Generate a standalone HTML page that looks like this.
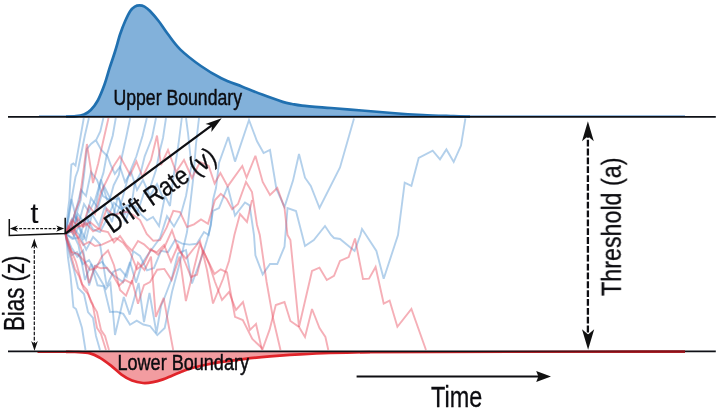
<!DOCTYPE html>
<html><head><meta charset="utf-8"><title>Drift Diffusion Model</title>
<style>html,body{margin:0;padding:0;background:#fff;}body{width:720px;height:411px;overflow:hidden;font-family:"Liberation Sans",sans-serif;}svg{display:block;}</style></head>
<body>
<svg width="720" height="411" viewBox="0 0 720 411">
<rect width="720" height="411" fill="#fff"/>
<g fill="none" stroke-width="1.9" stroke-linejoin="miter" stroke-miterlimit="3" stroke-linecap="butt">
<polyline points="65.5,233.8 67.0,222.0 68.0,210.0 69.3,200.0 70.2,182.0 71.4,164.6 73.4,163.5 75.5,165.6 79.6,141.9 83.8,118.0" stroke="#4a90d0" stroke-opacity="0.42"/>
<polyline points="65.5,233.8 67.5,224.0 69.0,216.0 71.4,200.0 75.5,177.0 78.0,170.0 80.7,156.3 84.8,135.7 88.9,118.0" stroke="#4a90d0" stroke-opacity="0.42"/>
<polyline points="65.5,233.8 69.0,226.0 72.0,219.0 75.0,222.0 78.0,208.0 80.7,200.0 83.8,177.0 86.9,149.0 91.0,144.0 96.2,139.8 100.3,131.5 103.4,118.0" stroke="#4a90d0" stroke-opacity="0.42"/>
<polyline points="65.5,233.8 70.0,228.0 74.0,216.0 79.0,222.0 84.0,204.0 89.0,212.0 95.1,200.0 99.3,185.2 103.4,172.9 106.5,156.3 109.6,146.0 112.7,135.7 115.8,118.0" stroke="#4a90d0" stroke-opacity="0.42"/>
<polyline points="65.5,233.8 71.0,226.0 76.0,210.0 81.0,190.0 86.0,196.0 91.0,172.0 97.0,180.0 103.0,196.0 109.6,200.0 113.7,185.2 118.9,175.0 122.0,156.3 126.1,137.7 130.2,118.0" stroke="#4a90d0" stroke-opacity="0.42"/>
<polyline points="65.5,233.8 72.0,231.0 78.0,214.0 85.0,224.0 91.0,198.0 98.0,208.0 104.0,186.0 110.0,198.0 116.0,216.0 122.0,200.0 128.2,177.0 131.3,168.7 136.4,156.3 142.6,135.7 146.8,118.0" stroke="#4a90d0" stroke-opacity="0.42"/>
<polyline points="65.5,233.8 73.0,238.0 79.0,226.0 86.0,240.0 92.0,214.0 99.0,226.0 105.0,206.0 112.0,222.0 118.0,196.0 125.0,214.0 132.3,200.0 134.4,185.2 140.6,172.9 144.7,156.3 148.8,146.0 152.0,137.7 156.0,118.0" stroke="#4a90d0" stroke-opacity="0.42"/>
<polyline points="65.5,233.8 72.4,238.9 79.3,237.4 86.2,217.4 93.1,229.4 100.0,232.0 107.0,218.8 114.0,202.9 121.0,209.1 128.0,205.1 135.0,206.0 141.0,214.5 147.0,220.3 153.0,217.0 159.0,226.1 165.0,196.0 170.0,206.0 173.0,180.0 178.5,144.0 181.8,118.0" stroke="#4a90d0" stroke-opacity="0.42"/>
<polyline points="65.5,233.8 71.4,247.4 77.3,256.7 83.2,250.6 89.1,285.5 95.0,266.0 102.0,261.7 109.0,271.3 116.0,276.9 123.0,282.1 130.0,262.0 136.0,282.6 142.0,263.4 148.0,254.5 154.0,246.3 160.0,238.0 167.0,216.2 174.0,226.5 181.0,214.0 186.0,196.0 191.4,165.5 188.0,133.0 186.0,118.0" stroke="#4a90d0" stroke-opacity="0.42"/>
<polyline points="65.5,233.8 72.0,231.4 78.5,245.0 85.0,280.0 91.2,264.0 97.5,285.3 103.8,286.3 110.0,312.0 116.7,311.6 123.3,313.9 130.0,324.7 136.7,320.6 143.3,324.5 150.0,326.0 157.3,335.1 164.7,328.0 172.0,292.0 180.0,262.0 187.0,232.0 193.5,176.0 196.0,144.0 199.0,118.0" stroke="#4a90d0" stroke-opacity="0.42"/>
<polyline points="65.5,233.8 71.4,198.9 77.3,222.1 83.2,240.0 89.1,217.0 95.0,210.0 101.0,179.5 107.0,199.8 113.0,199.0 119.0,198.5 125.0,222.0 131.2,204.4 137.5,212.3 143.8,193.3 150.0,188.0 156.0,170.0 160.0,150.0 163.0,138.0 166.0,118.0" stroke="#4a90d0" stroke-opacity="0.42"/>
<polyline points="96.2,140.8 101.3,150.0 107.5,156.3 110.6,164.6 114.8,173.9 120.0,166.7 125.0,182.0 131.0,172.0 137.0,190.0 143.0,180.0 150.0,196.0 157.0,184.0 164.0,200.0" stroke="#4a90d0" stroke-opacity="0.42"/>
<polyline points="65.5,233.8 66.5,240.0 68.0,258.0 70.4,274.5 73.4,307.0 76.0,309.0 79.3,319.0 82.0,328.0 85.5,350.0" stroke="#4a90d0" stroke-opacity="0.42"/>
<polyline points="65.5,233.8 67.0,242.0 70.0,256.0 74.0,270.0 78.0,288.0 84.0,294.0 88.0,312.0 93.0,318.0 96.0,336.0 100.0,350.0" stroke="#4a90d0" stroke-opacity="0.42"/>
<polyline points="65.5,233.8 68.0,244.0 72.0,255.0 77.0,252.0 83.0,264.0 89.0,260.0 95.6,271.5 106.0,289.0 110.4,283.0 115.0,335.0 123.8,297.0 129.7,314.6 138.6,283.0 144.0,322.0 149.5,293.0 156.5,333.0 161.0,306.0 164.0,299.0 171.6,279.0 178.0,253.5 186.0,250.0 192.0,283.5 203.0,253.5 207.0,240.0 211.0,225.0 213.0,200.0 216.0,188.0 219.0,163.0 228.3,137.0 235.0,161.6 249.0,120.0 256.9,141.0 263.6,153.0 270.0,150.0 276.4,189.0 284.5,207.0 293.0,180.6 299.0,154.0 305.0,177.7 310.8,186.0 319.5,208.0 340.0,167.5 354.0,118.5" stroke="#4a90d0" stroke-opacity="0.42"/>
<polyline points="65.5,233.8 72.4,226.8 79.3,235.0 86.2,249.7 93.1,236.9 100.0,244.0 106.7,286.2 113.3,271.7 120.0,269.0 126.7,276.7 133.3,251.3 140.0,256.0 147.0,270.4 154.0,267.9 161.0,250.9 168.0,252.1 175.0,240.0 182.2,243.6 189.5,244.6 196.8,243.8 204.0,232.0 208.7,235.0 213.0,211.0 219.0,208.0 227.7,186.4 235.0,215.6 245.0,202.5 249.6,205.4 254.0,235.0 255.4,255.4 262.7,274.4 270.0,264.0 277.3,264.0 284.5,246.7 287.5,208.0 296.0,211.0 305.0,246.0 313.8,240.0 325.0,226.0 331.0,235.0 334.0,238.0 340.0,239.0 354.6,251.0 360.4,235.0 362.0,229.0 366.0,235.0 376.4,251.0 383.7,278.7 398.0,235.0 404.7,182.6 411.4,185.8 418.7,158.0 432.7,150.6 440.0,159.3 446.4,149.4 453.7,162.0 461.0,145.6 465.4,118.5" stroke="#4a90d0" stroke-opacity="0.42"/>
<polyline points="65.5,233.8 68.0,226.0 71.0,230.0 75.0,212.0 79.6,200.0 82.7,177.0 86.9,144.0 93.0,183.0 98.2,163.5 103.0,142.0 108.5,118.0" stroke="#e8485a" stroke-opacity="0.44"/>
<polyline points="65.5,233.8 66.0,238.0 70.0,252.0 74.8,268.6 79.0,276.0 83.7,289.0 88.0,294.0 92.6,304.0 97.0,328.0 101.0,334.0 106.0,350.0" stroke="#e8485a" stroke-opacity="0.44"/>
<polyline points="65.5,233.8 67.0,240.0 71.0,250.0 76.0,262.0 82.0,284.0 87.0,290.0 91.0,302.0 97.0,312.0 101.0,330.0 105.0,336.0 109.0,350.0" stroke="#e8485a" stroke-opacity="0.44"/>
<polyline points="65.5,233.8 71.4,228.2 77.3,237.0 83.2,254.4 89.1,283.1 95.0,266.0 101.0,268.3 107.0,267.7 113.0,275.6 119.0,285.8 125.0,280.0 131.5,283.4 138.0,262.6 144.5,270.0 151.0,256.6 155.8,316.8 163.7,297.8 168.0,322.0 173.2,350.0" stroke="#e8485a" stroke-opacity="0.44"/>
<polyline points="65.5,233.8 69.0,228.0 73.0,234.0 78.0,218.0 83.0,226.0 89.0,206.0 95.0,214.0 101.0,192.0 107.0,180.0 113.7,166.0 120.0,156.3 130.2,175.0 136.4,161.5 142.6,177.0 151.0,160.0 157.0,135.6 161.0,165.0 168.0,150.0 176.0,172.0 184.0,160.0 192.0,178.0 200.0,162.0 208.7,166.0 214.6,183.5 220.4,173.0 227.7,186.4 242.3,166.0 246.6,177.7 255.4,155.8 262.7,182.0 270.0,195.0 277.3,188.0 284.5,208.0 287.5,235.0 290.4,240.0 299.0,327.0 312.0,271.0 319.5,267.7 326.8,280.0 334.0,275.8 340.0,261.0 348.7,257.0 355.0,238.5 363.0,279.0 369.0,278.7 375.6,267.0 383.7,303.5 389.6,300.6 397.4,326.8 411.4,309.0 426.0,350.0" stroke="#e8485a" stroke-opacity="0.44"/>
<polyline points="65.5,233.8 72.4,230.2 79.3,226.2 86.2,223.1 93.1,231.4 100.0,228.0 106.7,208.7 113.3,215.1 120.0,213.1 126.7,211.7 133.3,215.0 140.0,220.0 146.7,234.0 153.3,240.8 160.0,240.1 166.7,227.4 173.3,210.9 180.0,212.0 187.0,227.0 194.0,224.3 201.0,219.5 208.0,223.7 215.0,200.0 220.8,193.8 226.5,198.8 232.2,209.2 238.0,204.0 246.0,182.0 252.0,192.0 257.0,225.0 259.8,235.0 266.6,282.0 273.0,318.0 280.5,350.0" stroke="#e8485a" stroke-opacity="0.44"/>
<polyline points="65.5,233.8 71.6,251.8 77.8,254.0 83.9,260.7 90.0,270.0 96.0,268.2 102.0,256.3 108.0,250.5 114.0,265.2 120.0,290.0 126.0,295.6 132.0,280.3 138.0,303.8 144.0,285.1 150.0,282.0 157.2,269.7 164.4,268.9 171.6,280.0 179.6,256.6 185.9,301.0 200.0,244.0 214.4,274.0 220.7,269.3 227.0,272.5 235.0,316.8 242.8,320.0 252.3,339.0 262.7,348.7 269.7,329.4 275.8,305.0 284.5,302.0 290.4,321.0 299.0,327.0 305.0,337.0 312.0,309.0 319.5,328.0 325.4,337.0 328.3,350.0" stroke="#e8485a" stroke-opacity="0.44"/>
<polyline points="65.5,233.8 71.6,220.1 77.8,226.0 83.9,226.6 90.0,222.0 96.0,226.9 102.0,230.8 108.0,232.1 114.0,242.4 120.0,236.0 126.0,244.6 132.0,250.7 138.0,241.0 144.0,244.3 150.0,250.0 157.0,252.2 164.0,244.9 171.0,261.7 178.0,245.3 185.0,262.0 191.0,277.0 197.0,274.7 203.0,250.4 209.0,263.8 215.0,282.0 222.0,300.0 229.0,292.0 236.0,310.0 243.0,302.0 250.0,330.0 256.0,324.0 262.0,350.0" stroke="#e8485a" stroke-opacity="0.44"/>
<polyline points="65.5,233.8 71.4,222.7 77.3,235.8 83.2,245.0 89.1,241.9 95.0,246.0 102.0,244.7 109.0,241.4 116.0,238.0 123.0,242.7 130.0,252.0 137.0,269.3 144.0,263.6 151.0,249.1 158.0,254.7 165.0,246.0 172.0,230.4 179.0,250.5 186.0,258.6 193.0,249.5 200.0,241.0 207.0,270.0 213.0,303.5 223.0,279.0 229.0,261.0 234.4,235.0 240.0,214.0 247.0,222.0 252.0,200.0" stroke="#e8485a" stroke-opacity="0.44"/>
</g>
<path d="M66.0,116.5 C67.7,116.5 73.0,116.5 76.0,116.2 C79.0,115.9 81.5,115.5 84.0,114.5 C86.5,113.5 88.5,112.3 90.8,110.0 C93.1,107.7 95.5,104.8 97.8,100.5 C100.1,96.2 102.6,89.8 104.6,84.3 C106.6,78.8 107.9,73.2 109.7,67.7 C111.5,62.2 113.5,56.6 115.2,51.0 C117.0,45.4 118.5,39.0 120.2,34.0 C121.9,29.0 123.5,24.8 125.2,21.0 C126.9,17.2 128.7,13.4 130.3,11.0 C131.9,8.6 133.3,7.5 134.8,6.6 C136.3,5.7 137.9,5.4 139.5,5.4 C141.1,5.4 142.8,5.7 144.5,6.6 C146.2,7.5 147.7,8.6 150.0,11.0 C152.3,13.4 155.6,17.2 158.6,21.0 C161.6,24.8 164.2,29.2 167.8,34.0 C171.4,38.8 174.9,44.3 180.4,49.6 C185.9,54.9 194.1,61.2 200.9,66.0 C207.7,70.8 214.5,74.8 221.3,78.2 C228.1,81.6 235.0,83.8 241.8,86.5 C248.6,89.2 255.4,92.0 262.2,94.6 C269.0,97.2 277.7,100.3 282.7,101.9 C287.7,103.5 288.8,103.4 292.0,104.0 C295.2,104.6 295.5,104.9 302.0,105.6 C308.5,106.3 321.1,107.2 331.0,108.0 C340.9,108.8 351.5,109.7 361.7,110.5 C371.9,111.3 381.8,112.2 392.0,113.0 C402.2,113.8 412.8,114.5 423.0,115.0 C433.2,115.5 445.7,115.9 453.5,116.2 C461.3,116.5 467.2,116.5 470.0,116.6 Z" fill="#82b1da"/>
<path d="M66.0,116.5 C67.7,116.5 73.0,116.5 76.0,116.2 C79.0,115.9 81.5,115.5 84.0,114.5 C86.5,113.5 88.5,112.3 90.8,110.0 C93.1,107.7 95.5,104.8 97.8,100.5 C100.1,96.2 102.6,89.8 104.6,84.3 C106.6,78.8 107.9,73.2 109.7,67.7 C111.5,62.2 113.5,56.6 115.2,51.0 C117.0,45.4 118.5,39.0 120.2,34.0 C121.9,29.0 123.5,24.8 125.2,21.0 C126.9,17.2 128.7,13.4 130.3,11.0 C131.9,8.6 133.3,7.5 134.8,6.6 C136.3,5.7 137.9,5.4 139.5,5.4 C141.1,5.4 142.8,5.7 144.5,6.6 C146.2,7.5 147.7,8.6 150.0,11.0 C152.3,13.4 155.6,17.2 158.6,21.0 C161.6,24.8 164.2,29.2 167.8,34.0 C171.4,38.8 174.9,44.3 180.4,49.6 C185.9,54.9 194.1,61.2 200.9,66.0 C207.7,70.8 214.5,74.8 221.3,78.2 C228.1,81.6 235.0,83.8 241.8,86.5 C248.6,89.2 255.4,92.0 262.2,94.6 C269.0,97.2 277.7,100.3 282.7,101.9 C287.7,103.5 288.8,103.4 292.0,104.0 C295.2,104.6 295.5,104.9 302.0,105.6 C308.5,106.3 321.1,107.2 331.0,108.0 C340.9,108.8 351.5,109.7 361.7,110.5 C371.9,111.3 381.8,112.2 392.0,113.0 C402.2,113.8 412.8,114.5 423.0,115.0 C433.2,115.5 445.7,115.9 453.5,116.2 C461.3,116.5 467.2,116.5 470.0,116.6" fill="none" stroke="#2070b0" stroke-width="2.7" stroke-linejoin="round"/>
<path d="M66.0,351.8 C67.5,351.8 71.0,351.7 75.0,352.0 C79.0,352.3 85.8,352.4 90.0,353.4 C94.2,354.4 96.5,355.8 100.0,357.8 C103.5,359.8 107.4,362.8 111.0,365.6 C114.6,368.4 118.0,372.1 121.5,374.6 C125.0,377.1 128.4,379.2 132.0,380.6 C135.6,382.0 139.5,382.7 143.0,383.0 C146.5,383.3 149.7,382.8 153.0,382.2 C156.3,381.6 159.8,380.5 163.0,379.4 C166.2,378.3 169.3,376.7 172.5,375.4 C175.7,374.1 178.8,372.6 182.0,371.4 C185.2,370.2 187.5,369.2 191.5,368.1 C195.5,367.0 201.2,365.8 206.0,364.8 C210.8,363.8 213.5,363.2 220.0,362.2 C226.5,361.2 236.7,359.8 245.0,358.8 C253.3,357.8 260.8,357.1 270.0,356.3 C279.2,355.6 290.0,354.9 300.0,354.3 C310.0,353.8 318.3,353.4 330.0,353.0 C341.7,352.6 363.3,352.2 370.0,352.0 Z" fill="#f29ca0"/>
<path d="M66.0,351.8 C67.5,351.8 71.0,351.7 75.0,352.0 C79.0,352.3 85.8,352.4 90.0,353.4 C94.2,354.4 96.5,355.8 100.0,357.8 C103.5,359.8 107.4,362.8 111.0,365.6 C114.6,368.4 118.0,372.1 121.5,374.6 C125.0,377.1 128.4,379.2 132.0,380.6 C135.6,382.0 139.5,382.7 143.0,383.0 C146.5,383.3 149.7,382.8 153.0,382.2 C156.3,381.6 159.8,380.5 163.0,379.4 C166.2,378.3 169.3,376.7 172.5,375.4 C175.7,374.1 178.8,372.6 182.0,371.4 C185.2,370.2 187.5,369.2 191.5,368.1 C195.5,367.0 201.2,365.8 206.0,364.8 C210.8,363.8 213.5,363.2 220.0,362.2 C226.5,361.2 236.7,359.8 245.0,358.8 C253.3,357.8 260.8,357.1 270.0,356.3 C279.2,355.6 290.0,354.9 300.0,354.3 C310.0,353.8 318.3,353.4 330.0,353.0 C341.7,352.6 363.3,352.2 370.0,352.0" fill="none" stroke="#e0242a" stroke-width="2.7" stroke-linejoin="round"/>
<defs><linearGradient id="rg" gradientUnits="userSpaceOnUse" x1="470" y1="0" x2="640" y2="0"><stop offset="0" stop-color="#a01018" stop-opacity="0"/><stop offset="1" stop-color="#a01018" stop-opacity="0.85"/></linearGradient></defs>
<line x1="39" y1="116.1" x2="685" y2="116.1" stroke="#3a7cc0" stroke-width="1.1"/>
<line x1="8" y1="116.9" x2="715.8" y2="116.9" stroke="#0e1016" stroke-width="1.7"/>
<line x1="37.5" y1="352.3" x2="75" y2="352.3" stroke="#e0242a" stroke-width="1.6"/>
<line x1="360" y1="352.5" x2="685" y2="351.7" stroke="#e0242a" stroke-width="1.9"/>
<line x1="8" y1="351.4" x2="715.8" y2="351.4" stroke="#0e1016" stroke-width="1.7"/>
<rect x="470" y="350.3" width="215" height="2.5" fill="url(#rg)"/>
<g opacity="0.999">
<text x="113.5" y="105.2" font-size="22.4" textLength="128.5" lengthAdjust="spacingAndGlyphs" font-family="Liberation Sans, sans-serif" fill="#0c0c10" stroke="#0c0c10" stroke-width="0.45">Upper Boundary</text>
<text x="117.5" y="370.3" font-size="22.4" textLength="131.5" lengthAdjust="spacingAndGlyphs" font-family="Liberation Sans, sans-serif" fill="#0c0c10" stroke="#0c0c10" stroke-width="0.45">Lower Boundary</text>
<text x="431" y="407.3" font-size="28.6" textLength="51.2" lengthAdjust="spacingAndGlyphs" font-family="Liberation Sans, sans-serif" fill="#0c0c10" stroke="#0c0c10" stroke-width="0.3">Time</text>
<text transform="translate(24,331) rotate(-90)" font-size="29" textLength="75.5" lengthAdjust="spacingAndGlyphs" font-family="Liberation Sans, sans-serif" fill="#0c0c10" stroke="#0c0c10" stroke-width="0.3">Bias (z)</text>
<text transform="translate(620.8,296) rotate(-90)" font-size="28" textLength="138.5" lengthAdjust="spacingAndGlyphs" font-family="Liberation Sans, sans-serif" fill="#0c0c10" stroke="#0c0c10" stroke-width="0.3">Threshold (a)</text>
<text transform="translate(112.3,234) rotate(-34.6)" font-size="26.5" textLength="128.6" lengthAdjust="spacingAndGlyphs" font-family="Liberation Sans, sans-serif" fill="#0c0c10" stroke="#0c0c10" stroke-width="0.3">Drift Rate (v)</text>
<text x="30.6" y="223.2" font-size="28.5" font-family="Liberation Sans, sans-serif" fill="#0c0c10" stroke="#0c0c10" stroke-width="0.15">t</text>
</g>
<line x1="65.4" y1="233.7" x2="212.8" y2="124.6" stroke="#0e0e12" stroke-width="2.3"/>
<polygon points="221.7,118.2 211.4,132.0 211.8,125.6 205.5,124.1" fill="#111"/>
<line x1="356.6" y1="376.5" x2="540" y2="376.5" stroke="#0e0e12" stroke-width="2.2"/>
<polygon points="551.0,376.5 536.2,382.0 538.4,376.5 536.2,371.0" fill="#111"/>
<line x1="587.9" y1="130.9" x2="587.9" y2="338" stroke="#0e0e12" stroke-width="2.3" stroke-dasharray="6.8 2.05"/>
<polygon points="587.9,121.2 593.8,141.2 587.9,136.2 582.0,141.2" fill="#111"/>
<polygon points="588.1,349.7 582.0,329.3 588.1,334.4 594.2,329.3" fill="#111"/>
<line x1="34.3" y1="245" x2="34.3" y2="344" stroke="#0e0e12" stroke-width="1.2" stroke-dasharray="3.6 1.5"/>
<polygon points="34.3,238.6 37.6,248.4 34.3,245.5 31.0,248.4" fill="#111"/>
<polygon points="34.5,350.8 31.2,341.0 34.5,343.9 37.8,341.0" fill="#111"/>
<polyline points="9.3,219 9.3,235.4 65.2,233.6 65.2,217.8" fill="none" stroke="#111" stroke-width="1.5"/>
<line x1="15" y1="228.6" x2="59" y2="228.6" stroke="#111" stroke-width="1.1" stroke-dasharray="2.8 1.4"/>
<polygon points="9.8,228.6 17.8,225.5 15.4,228.6 17.8,231.7" fill="#111"/>
<polygon points="64.2,228.6 56.2,231.7 58.6,228.6 56.2,225.5" fill="#111"/>
</svg>
</body></html>
